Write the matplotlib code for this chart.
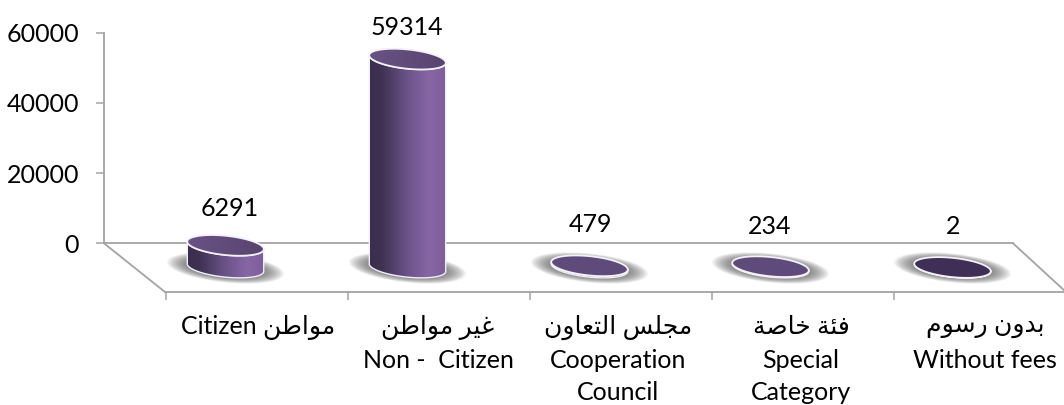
import numpy as np
import matplotlib
matplotlib.use("Agg")
import matplotlib.pyplot as plt
from matplotlib.colors import LinearSegmentedColormap
from matplotlib.patches import Polygon

# ---------- data ----------
values = [6291, 59314, 479, 234, 2]
value_labels = ["6291", "59314", "479", "234", "2"]
labels_ar = ["مواطن", "غير مواطن", "مجلس التعاون", "فئة خاصة", "بدون رسوم"]
labels_en = [["Citizen"], ["Non -  Citizen"], ["Cooperation", "Council"],
             ["Special", "Category"], ["Without fees"]]
y_ticks = [0, 20000, 40000, 60000]

# ---------- Arabic shaping (matplotlib has no shaper) ----------
FORMS = {  # isolated, final, initial, medial
    "ا": (0xFE8D, 0xFE8E, None, None), "ب": (0xFE8F, 0xFE90, 0xFE91, 0xFE92),
    "ة": (0xFE93, 0xFE94, None, None), "ت": (0xFE95, 0xFE96, 0xFE97, 0xFE98),
    "ج": (0xFE9D, 0xFE9E, 0xFE9F, 0xFEA0), "خ": (0xFEA5, 0xFEA6, 0xFEA7, 0xFEA8),
    "د": (0xFEA9, 0xFEAA, None, None), "ر": (0xFEAD, 0xFEAE, None, None),
    "س": (0xFEB1, 0xFEB2, 0xFEB3, 0xFEB4), "ص": (0xFEB9, 0xFEBA, 0xFEBB, 0xFEBC),
    "ط": (0xFEC1, 0xFEC2, 0xFEC3, 0xFEC4), "ع": (0xFEC9, 0xFECA, 0xFECB, 0xFECC),
    "غ": (0xFECD, 0xFECE, 0xFECF, 0xFED0), "ف": (0xFED1, 0xFED2, 0xFED3, 0xFED4),
    "ل": (0xFEDD, 0xFEDE, 0xFEDF, 0xFEE0), "م": (0xFEE1, 0xFEE2, 0xFEE3, 0xFEE4),
    "ن": (0xFEE5, 0xFEE6, 0xFEE7, 0xFEE8), "و": (0xFEED, 0xFEEE, None, None),
    "ي": (0xFEF1, 0xFEF2, 0xFEF3, 0xFEF4), "ئ": (0xFE89, 0xFE8A, 0xFE8B, 0xFE8C),
}


def shape(text):
    out = []
    for i, ch in enumerate(text):
        if ch not in FORMS:
            out.append(ch)
            continue
        prev = text[i - 1] if i else " "
        nxt = text[i + 1] if i + 1 < len(text) else " "
        joins_prev = prev in FORMS and FORMS[prev][2] is not None
        joins_next = nxt in FORMS and FORMS[ch][2] is not None
        f = FORMS[ch]
        code = f[3] if joins_prev and joins_next else f[1] if joins_prev else f[2] if joins_next else f[0]
        out.append(chr(code))
    return "".join(reversed(out))


# ---------- layout ----------
W, H = 1064, 405
FONT = ["Lato", "DejaVu Sans"]
FS = 18
GRAY = "#a3a3a3"
TEXT = "#000000"

PX_PER_UNIT = (243.3 - 32.5) / 60000
STEP = 182.0
X0 = 225.5


def vy(py):
    return (243.3 - py) / PX_PER_UNIT


def vx(px):
    return (px - X0) / STEP


fig = plt.figure(figsize=(W / 100, H / 100), dpi=100, facecolor="white")
ax = fig.add_axes([0, 0, 1, 1], facecolor="none")
ax.set_xlim(vx(0), vx(W))
ax.set_ylim(vy(H), vy(0))

for s in ("top", "right"):
    ax.spines[s].set_visible(False)
ax.spines["left"].set_position(("data", vx(104)))
ax.spines["left"].set_bounds(0, 60000)
ax.spines["bottom"].set_position(("data", vy(292)))
ax.spines["bottom"].set_bounds(vx(165), vx(W))
for s in ("left", "bottom"):
    ax.spines[s].set_color(GRAY)
    ax.spines[s].set_linewidth(1.3)

ax.set_yticks(y_ticks)
ax.set_yticklabels([str(t) for t in y_ticks], fontfamily=FONT, fontsize=FS, color=TEXT)
ax.tick_params(axis="y", length=6, width=1.1, color=GRAY, pad=12)
ax.set_xticks([vx(166) + i for i in range(len(values))])
ax.tick_params(axis="x", length=6, width=1.1, color=GRAY, labelbottom=False)

# floor edges
ax.plot([vx(104), vx(1013)], [0, 0], color=GRAY, lw=1.3, zorder=1)
ax.plot([vx(104), vx(165)], [0, vy(292)], color=GRAY, lw=1.3, zorder=1)
ax.plot([vx(1013), vx(1066)], [0, vy(292)], color=GRAY, lw=1.3, zorder=1)

# ---------- cylinders ----------
RX, RY, TILT = 38.5, 9.6, np.radians(6)
BASE_PY = 267.5
gradient = LinearSegmentedColormap.from_list(
    "cyl", [(0, "#3a2d4d"), (0.16, "#3e3152"), (0.5, "#6b5389"),
            (0.78, "#8766a6"), (1, "#7d5f9b")])
cap_gradient = LinearSegmentedColormap.from_list("cap", ["#6a5385", "#574370"])


def ellipse(cx_px, cy_px, rx, ry, t):
    px = cx_px + rx * np.cos(t) * np.cos(TILT) - ry * np.sin(t) * np.sin(TILT)
    py = cy_px + rx * np.cos(t) * np.sin(TILT) + ry * np.sin(t) * np.cos(TILT)
    return px, py


t_all = np.linspace(0, 2 * np.pi, 120)
for i, v in enumerate(values):
    cx = X0 + STEP * i - (1.0 if i >= 3 else 0.0)
    top_py = BASE_PY - v * PX_PER_UNIT

    # soft shadow
    n = 40
    for k in range(n):
        f = 1 - k / n
        sx, sy = ellipse(cx, BASE_PY + 0.5, 26 + 33 * f, 6 + 8.5 * f, t_all)
        ax.fill(vx(sx), vy(sy), color="#555555", alpha=0.038, lw=0, zorder=2)

    # body
    t_low = np.linspace(-np.radians(6), np.pi - np.radians(6), 80)
    bx, by = ellipse(cx, BASE_PY, RX, RY, t_low)
    tx, ty = ellipse(cx, top_py, RX, RY, t_low)
    poly_x = np.concatenate([bx, tx[::-1]])
    poly_y = np.concatenate([by, ty[::-1]])
    body = Polygon(np.column_stack([vx(poly_x), vy(poly_y)]), closed=True,
                   facecolor="none", edgecolor="#f1eef5", lw=1.0, zorder=4)
    ax.add_patch(body)
    if v > 1000:
        im = ax.imshow(np.linspace(0, 1, 256)[None, :], cmap=gradient, aspect="auto",
                       extent=(vx(cx - RX), vx(cx + RX), vy(BASE_PY + 14), vy(top_py - 14)),
                       zorder=3)
        im.set_clip_path(Polygon(np.column_stack([vx(poly_x), vy(poly_y)]), closed=True,
                                 transform=ax.transData))

    # top cap: darker as the mark shrinks to nothing
    ex, ey = ellipse(cx, top_py, RX, RY, t_all)
    if v > 1000:
        capim = ax.imshow(np.linspace(0, 1, 128)[None, :], cmap=cap_gradient, aspect="auto",
                          extent=(vx(cx - RX - 2), vx(cx + RX + 2), vy(top_py + 14), vy(top_py - 14)),
                          zorder=5)
        capim.set_clip_path(Polygon(np.column_stack([vx(ex), vy(ey)]), closed=True,
                                    transform=ax.transData))
        ax.fill(vx(ex), vy(ey), facecolor="none", edgecolor="#f4f1f7", lw=1.3, zorder=5.5)
    else:
        cap = "#3f2f56" if v < 100 else "#5f4a7c"
        ax.fill(vx(ex), vy(ey), facecolor=cap, edgecolor="#f4f1f7", lw=1.3, zorder=5)

ax.set_xlim(vx(0), vx(W))
ax.set_ylim(vy(H), vy(0))

# ---------- data labels ----------
label_px = [(230, 208), (407, 27), (590, 224), (770, 226), (953, 226)]
for txt, (px, py) in zip(value_labels, label_px):
    ax.text(vx(px), vy(py), txt, ha="center", va="center", fontfamily=FONT,
            fontsize=FS, color=TEXT, zorder=6)

# ---------- category labels ----------
cat_px = [258, 438, 618, 801, 985]
line_py = [327, 361, 393]
for i, (ar, en) in enumerate(zip(labels_ar, labels_en)):
    if i == 0:
        lines = [en[0] + " " + shape(ar)]
    else:
        lines = [shape(ar)] + en
    for line, py in zip(lines, line_py):
        ax.text(vx(cat_px[i]), vy(py), line, ha="center", va="center",
                fontfamily=FONT, fontsize=FS, color=TEXT, zorder=6)

fig.savefig("out.png", dpi=100, facecolor="white")
